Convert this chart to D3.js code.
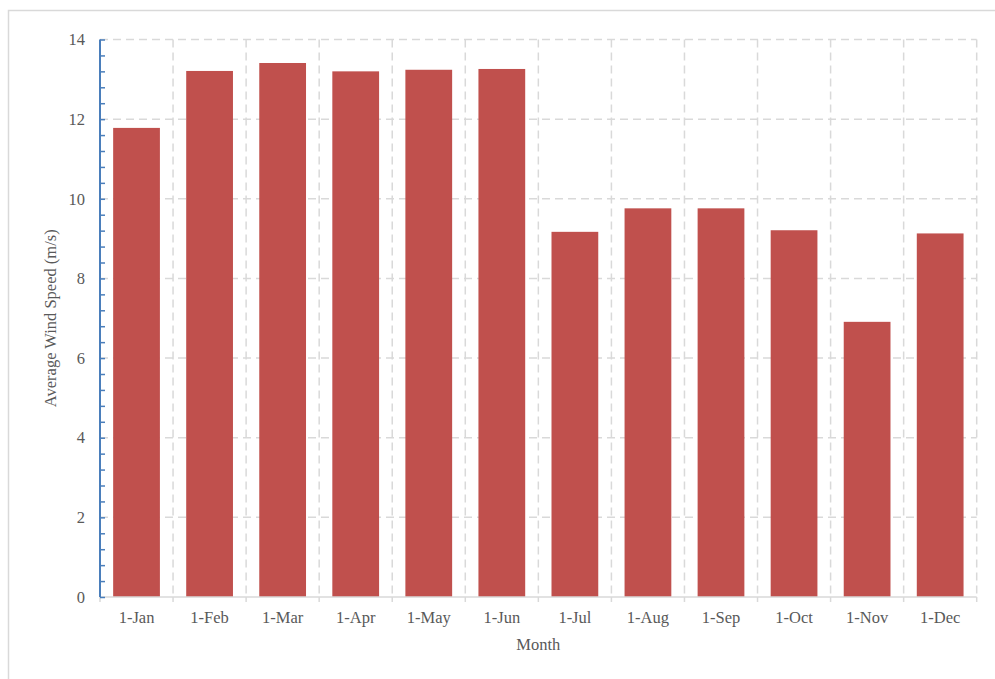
<!DOCTYPE html>
<html>
<head>
<meta charset="utf-8">
<script src="https://cdn.jsdelivr.net/npm/d3@7"></script>
<style>
  body { margin: 0; background: #fff; }
  text { font-family: "Liberation Serif", "DejaVu Serif", serif; fill: #595959; }
</style>
</head>
<body>
<script>
// 月份和风速
var months = ["1-Jan", "1-Feb", "1-Mar", "1-Apr", "1-May", "1-Jun",
  "1-Jul", "1-Aug", "1-Sep", "1-Oct", "1-Nov", "1-Dec"];
var windSpeed = [11.78, 13.21, 13.41, 13.20, 13.24, 13.26,
  9.17, 9.76, 9.76, 9.21, 6.91, 9.13];
var yTicks = [0, 2, 4, 6, 8, 10, 12, 14];

var width = 995;
var height = 679;
var padding = { top: 39.5, right: 18.3, bottom: 82, left: 100 };

var svg = d3.select("body")
  .append("svg")
  .attr("width", width)
  .attr("height", height);

// 外框
svg.append("rect")
  .attr("x", 8.5).attr("y", 10.5)
  .attr("width", 1000).attr("height", 700)
  .attr("fill", "none")
  .attr("stroke", "#d9d9d9")
  .attr("stroke-width", 1.5);

var x = d3.scaleBand()
  .domain(months)
  .range([padding.left, width - padding.right])
  .paddingInner(0.36)
  .paddingOuter(0.18);

var bandStep = x.step();
var x0 = padding.left;

var y = d3.scaleLinear()
  .domain([0, 14])
  .range([height - padding.bottom, padding.top]);

var grid = svg.append("g")
  .attr("stroke", "#d9d9d9")
  .attr("stroke-width", 1.5)
  .attr("stroke-dasharray", "8,5");

// 横向网格
grid.selectAll(".hg")
  .data(yTicks.filter(function (d) { return d > 0; }))
  .enter()
  .append("line")
  .attr("x1", x0)
  .attr("x2", width - padding.right)
  .attr("y1", function (d) { return y(d); })
  .attr("y2", function (d) { return y(d); });

// 纵向网格
grid.selectAll(".vg")
  .data(d3.range(1, months.length + 1))
  .enter()
  .append("line")
  .attr("x1", function (i) { return x0 + i * bandStep; })
  .attr("x2", function (i) { return x0 + i * bandStep; })
  .attr("y1", y(14))
  .attr("y2", y(0));

// 柱子
svg.selectAll(".bar")
  .data(windSpeed)
  .enter()
  .append("rect")
  .attr("fill", "#c0504d")
  .attr("x", function (d, i) { return x(months[i]); })
  .attr("y", function (d) { return y(d); })
  .attr("width", x.bandwidth())
  .attr("height", function (d) { return y(0) - y(d); });

// x 轴
svg.append("line")
  .attr("x1", x0).attr("x2", width - padding.right)
  .attr("y1", y(0)).attr("y2", y(0))
  .attr("stroke", "#d9d9d9").attr("stroke-width", 1.5);

svg.selectAll(".xt")
  .data(d3.range(0, months.length + 1))
  .enter()
  .append("line")
  .attr("x1", function (i) { return x0 + i * bandStep; })
  .attr("x2", function (i) { return x0 + i * bandStep; })
  .attr("y1", y(0))
  .attr("y2", y(0) + 5)
  .attr("stroke", "#d9d9d9").attr("stroke-width", 1.5);

svg.selectAll(".xl")
  .data(months)
  .enter()
  .append("text")
  .attr("x", function (d) { return x(d) + x.bandwidth() / 2; })
  .attr("y", y(0) + 26)
  .attr("text-anchor", "middle")
  .attr("font-size", "16.5px")
  .text(function (d) { return d; });

// y 轴
var yAxis = d3.axisRight(y)
  .tickValues(d3.range(0, 14.01, 0.4))
  .tickSize(5)
  .tickFormat("");

var yg = svg.append("g")
  .attr("transform", "translate(" + x0 + ",0)")
  .call(yAxis);
yg.select(".domain").attr("stroke", "#4a7ebb").attr("stroke-width", 2)
  .attr("d", "M0," + y(14) + "V" + y(0));
yg.selectAll(".tick line").attr("stroke", "#4a7ebb").attr("stroke-width", 1.5);

svg.selectAll(".yl")
  .data(yTicks)
  .enter()
  .append("text")
  .attr("x", 85)
  .attr("y", function (d) { return y(d); })
  .attr("dy", "0.35em")
  .attr("text-anchor", "end")
  .attr("font-size", "16.5px")
  .text(function (d) { return d; });

// 轴标题
svg.append("text")
  .attr("x", (x0 + width - padding.right) / 2)
  .attr("y", 650)
  .attr("text-anchor", "middle")
  .attr("font-size", "16.5px")
  .text("Month");

svg.append("text")
  .attr("transform", "translate(56," + ((y(0) + y(14)) / 2) + ") rotate(-90)")
  .attr("text-anchor", "middle")
  .attr("font-size", "16.5px")
  .text("Average Wind Speed (m/s)");
</script>
</body>
</html>
